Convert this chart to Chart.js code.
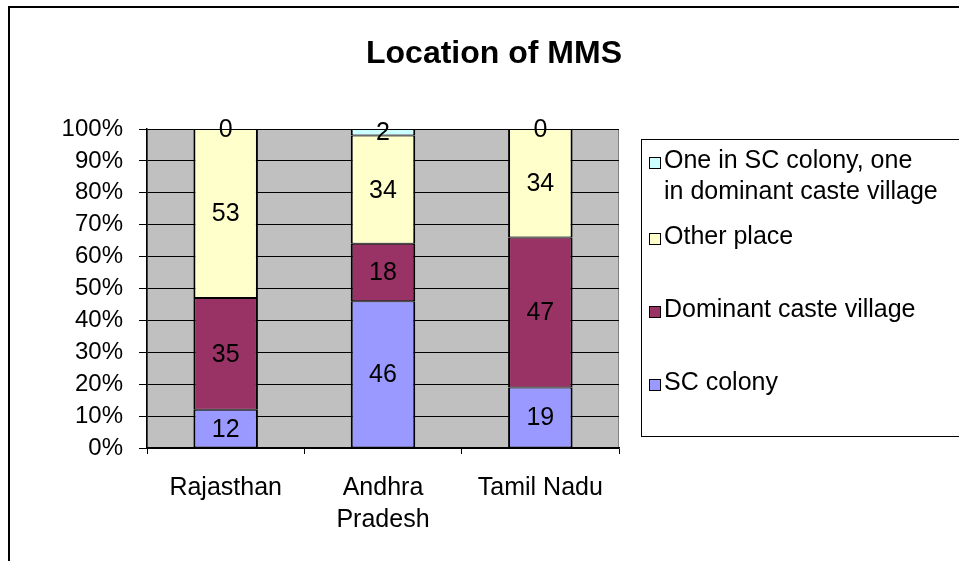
<!DOCTYPE html>
<html>
<head>
<meta charset="utf-8">
<title>Location of MMS</title>
<script src="https://cdn.jsdelivr.net/npm/chart.js@4.4.1/dist/chart.umd.min.js"></script>
<style>
  html, body { margin: 0; padding: 0; background: #fff; }
</style>
</head>
<body>
<canvas id="mmsChart" width="959" height="561"></canvas>
<script>
// chart data
const states = [["Rajasthan"], ["Andhra", "Pradesh"], ["Tamil Nadu"]];
const scColony = [12, 46, 19];
const dominantVillage = [35, 18, 47];
const otherPlace = [53, 34, 34];
const bothPlaces = [0, 2, 0];
const seriesNames = ["SC colony", "Dominant caste village", "Other place",
    ["One in SC colony, one", "in dominant caste village"]];
const chartTitle = "Location of MMS";

const FONT = "'Liberation Sans', Arial, sans-serif";
const allSeries = [scColony, dominantVillage, otherPlace, bothPlaces];
const colors = ["#9999FF", "#993366", "#FFFFCC", "#CCFFFF"];

// 100% stacked: turn counts into shares of the column total
const totals = states.map((_, i) => allSeries.reduce((s, arr) => s + arr[i], 0));
const toShare = arr => arr.map((v, i) => v / totals[i] * 100);

const excelLook = {
    id: "excelLook",
    beforeDraw(chart) {
        const { ctx, chartArea: a } = chart;
        ctx.save();
        // outer chart border (left + top only are visible)
        ctx.strokeStyle = "#000";
        ctx.lineWidth = 2;
        ctx.beginPath();
        ctx.moveTo(9, 561);
        ctx.lineTo(9, 7);
        ctx.lineTo(959, 7);
        ctx.stroke();
        // grey plot area
        ctx.fillStyle = "#C0C0C0";
        ctx.fillRect(a.left, a.top, a.right - a.left, a.bottom - a.top);
        ctx.strokeStyle = "#808080";
        ctx.lineWidth = 1;
        ctx.strokeRect(a.left + 0.5, a.top + 0.5, a.right - a.left - 1, a.bottom - a.top);
        // title
        ctx.fillStyle = "#000";
        ctx.font = "bold 32px " + FONT;
        ctx.textAlign = "center";
        ctx.textBaseline = "middle";
        ctx.fillText(chartTitle, 494, 54);
        ctx.restore();
    },
    afterDatasetsDraw(chart) {
        const { ctx } = chart;
        ctx.save();
        ctx.font = "25px " + FONT;
        ctx.fillStyle = "#000";
        ctx.textAlign = "center";
        ctx.textBaseline = "middle";
        chart.data.datasets.forEach((ds, di) => {
            chart.getDatasetMeta(di).data.forEach((bar, i) => {
                const y = (bar.y + bar.base) / 2;
                ctx.fillText(String(allSeries[di][i]), bar.x, y + 1);
            });
        });
        ctx.restore();
    },
    afterDraw(chart) {
        const { ctx } = chart;
        ctx.save();
        // legend box, items listed top series first
        ctx.strokeStyle = "#000";
        ctx.lineWidth = 1;
        ctx.strokeRect(641.5, 139.5, 400, 297);
        ctx.font = "25px " + FONT;
        ctx.textBaseline = "middle";
        ctx.textAlign = "left";
        const rows = [[161, 192], [237], [310], [383]];
        [3, 2, 1, 0].forEach((di, k) => {
            const ds = chart.data.datasets[di];
            const lines = Array.isArray(seriesNames[di]) ? seriesNames[di] : [seriesNames[di]];
            const y0 = rows[k][0];
            ctx.fillStyle = ds.backgroundColor;
            ctx.fillRect(649, y0 - 4, 11, 11);
            ctx.strokeStyle = "#000";
            ctx.strokeRect(649.5, y0 - 3.5, 11, 11);
            ctx.fillStyle = "#000";
            lines.forEach((t, j) => ctx.fillText(t, 664, rows[k][j]));
        });
        ctx.restore();
    }
};

new Chart(document.getElementById("mmsChart").getContext("2d"), {
    type: "bar",
    data: {
        labels: states,
        datasets: allSeries.map((arr, i) => ({
            label: Array.isArray(seriesNames[i]) ? seriesNames[i].join(" ") : seriesNames[i],
            data: toShare(arr),
            backgroundColor: colors[i],
            borderColor: "#000",
            borderWidth: { left: 2, right: 2, top: 1, bottom: 1 },
            borderSkipped: false,
            barPercentage: 0.41,
            categoryPercentage: 1
        }))
    },
    options: {
        responsive: false,
        animation: false,
        layout: { padding: { top: 129, right: 340, bottom: 0, left: 0 } },
        scales: {
            x: {
                stacked: true,
                grid: { color: "#000", drawOnChartArea: false, tickLength: 6, offset: true },
                border: { color: "#000", width: 1.5 },
                ticks: { color: "#000", font: { family: FONT, size: 25, lineHeight: 1.28 }, padding: 18, maxRotation: 0 },
                afterFit: s => { s.height = 113; }
            },
            y: {
                stacked: true,
                min: 0,
                max: 100,
                grid: { color: "#000", tickLength: 8 },
                border: { color: "#000", width: 1.5 },
                ticks: {
                    stepSize: 10,
                    color: "#000",
                    padding: 16,
                    font: { family: FONT, size: 24 },
                    callback: v => v + "%"
                },
                afterFit: s => { s.width = 147; }
            }
        },
        plugins: {
            legend: { display: false },
            title: { display: false },
            tooltip: { enabled: false }
        }
    },
    plugins: [excelLook]
});
</script>
</body>
</html>
